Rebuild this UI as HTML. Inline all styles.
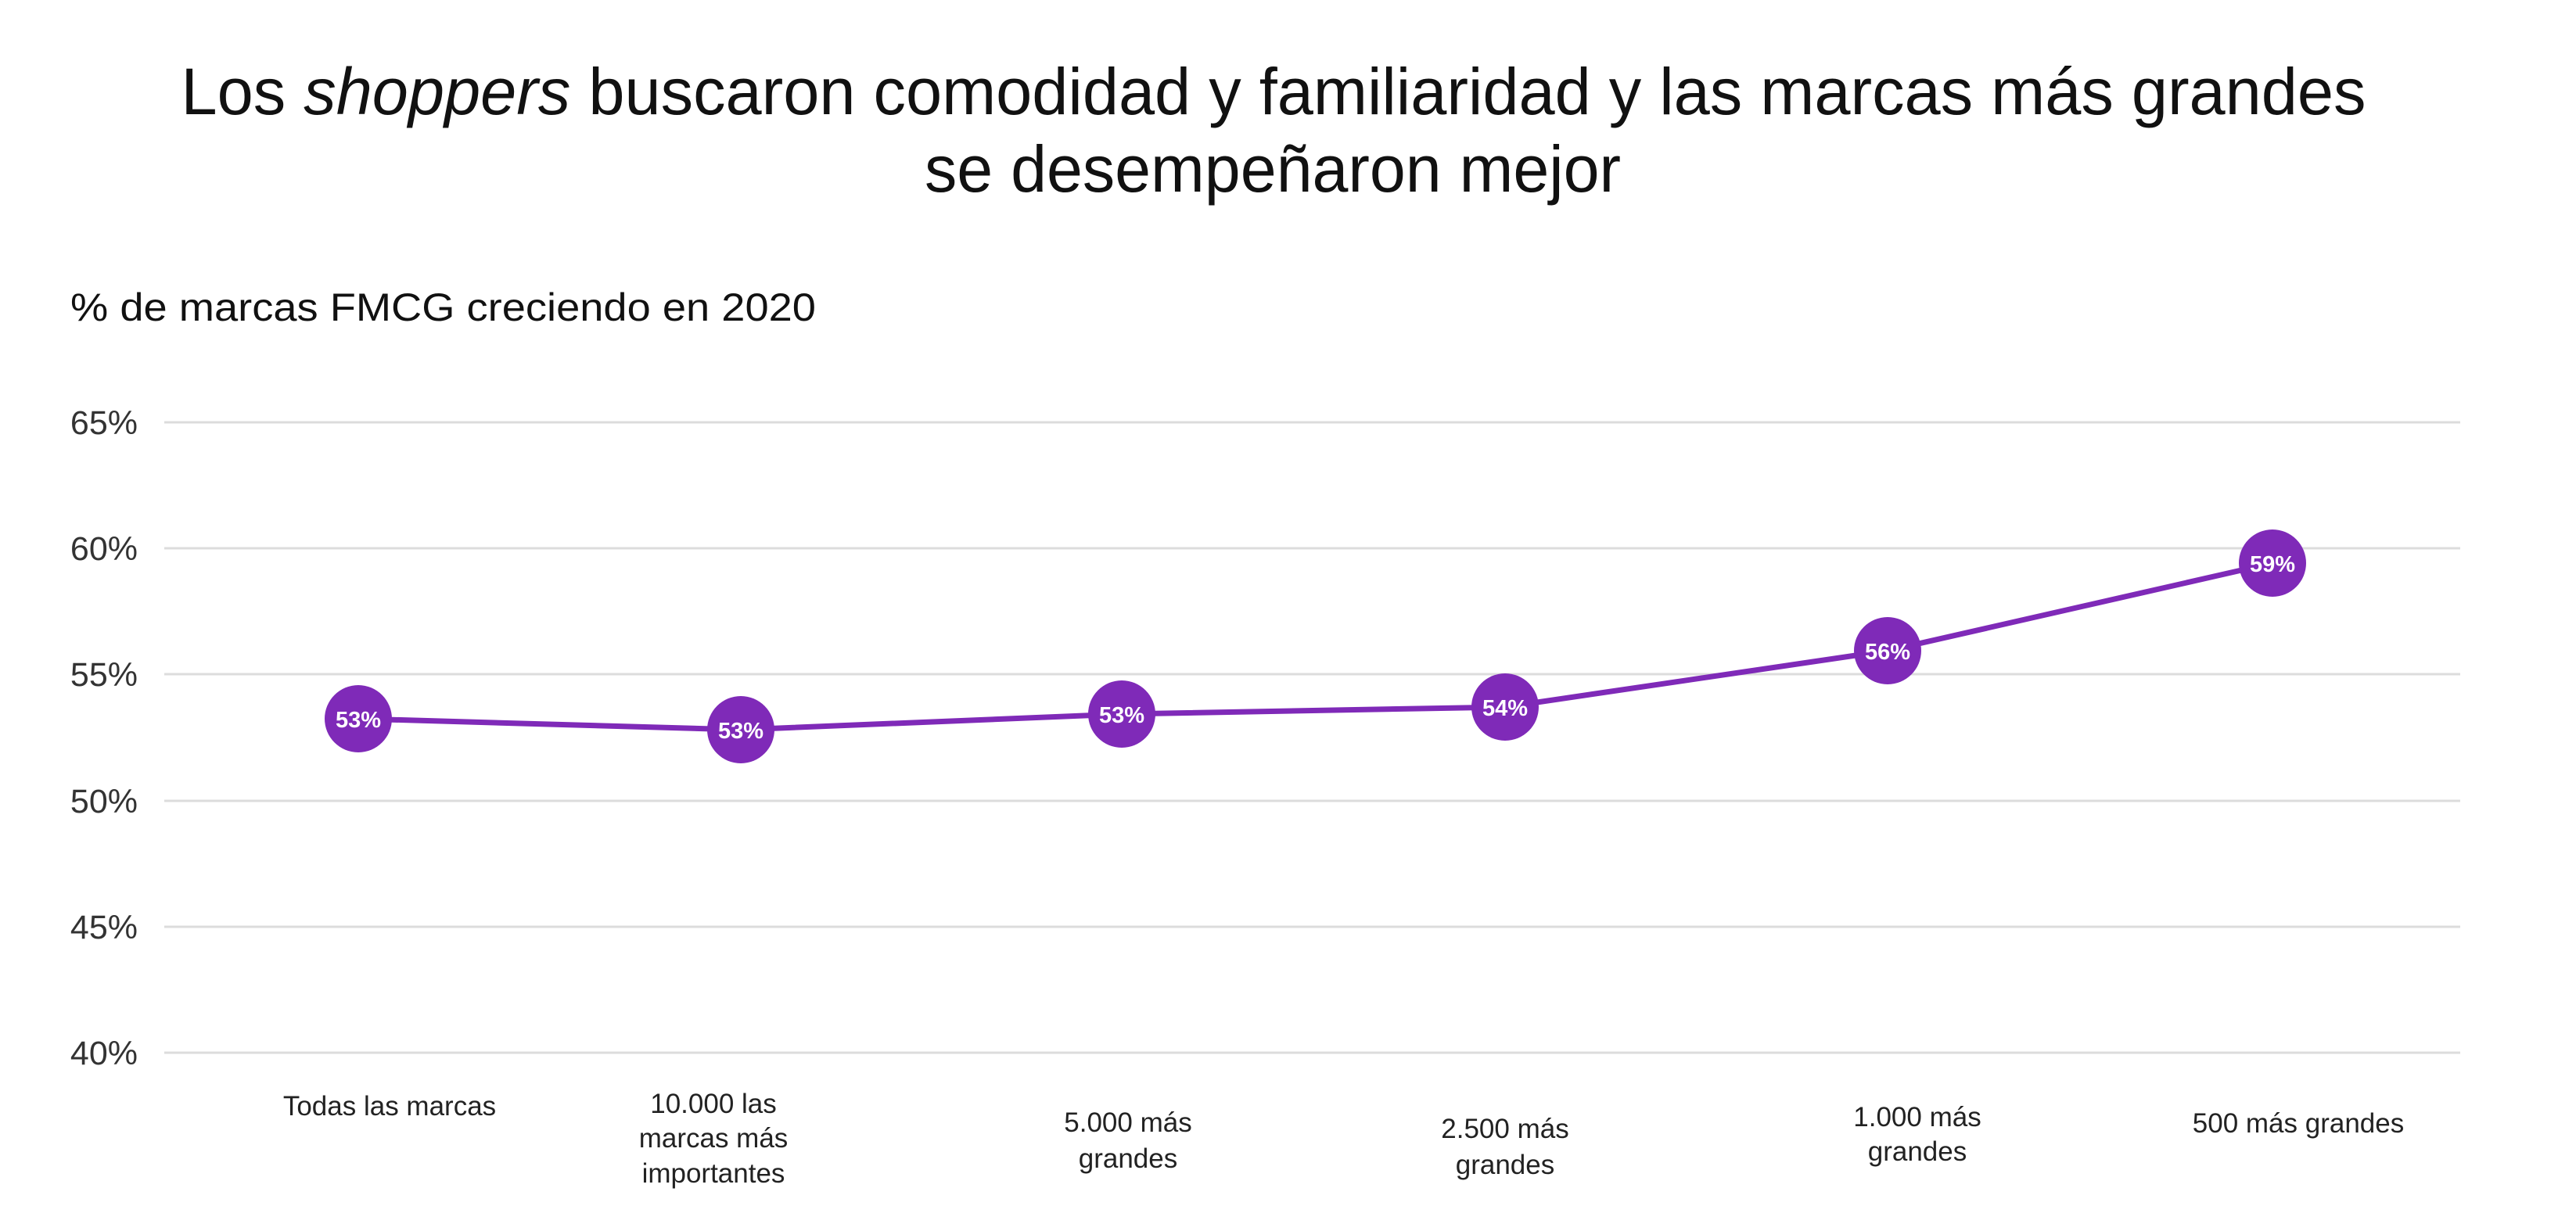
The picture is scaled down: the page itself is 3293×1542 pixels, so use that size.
<!DOCTYPE html>
<html><head><meta charset="utf-8"><style>
html,body{margin:0;padding:0;background:#fff;}
svg{display:block;}
</style></head><body>
<svg width="3293" height="1542" viewBox="0 0 3293 1542" xmlns="http://www.w3.org/2000/svg" font-family="Liberation Sans, sans-serif">
<rect width="3293" height="1542" fill="#fff"/>
<text x="1628" y="146" font-size="84" text-anchor="middle" fill="#111" textLength="2793" lengthAdjust="spacingAndGlyphs">Los <tspan font-style="italic">shoppers</tspan> buscaron comodidad y familiaridad y las marcas más grandes</text>
<text x="1627" y="245" font-size="84" text-anchor="middle" fill="#111" textLength="890" lengthAdjust="spacingAndGlyphs">se desempeñaron mejor</text>
<text x="90" y="410" font-size="50" fill="#111" textLength="953" lengthAdjust="spacingAndGlyphs">% de marcas FMCG creciendo en 2020</text>
<g stroke="#dcdcdc" stroke-width="3">
<line x1="210" y1="540" x2="3145" y2="540"/>
<line x1="210" y1="701" x2="3145" y2="701"/>
<line x1="210" y1="862" x2="3145" y2="862"/>
<line x1="210" y1="1024" x2="3145" y2="1024"/>
<line x1="210" y1="1185" x2="3145" y2="1185"/>
<line x1="210" y1="1346" x2="3145" y2="1346"/>
</g>
<g font-size="43" fill="#333" text-anchor="end">
<text x="176" y="555">65%</text>
<text x="176" y="716">60%</text>
<text x="176" y="877">55%</text>
<text x="176" y="1039">50%</text>
<text x="176" y="1200">45%</text>
<text x="176" y="1361">40%</text>
</g>
<polyline points="458,919 947,933 1434,913 1924,904 2413,832 2905,720" fill="none" stroke="#7F2AB8" stroke-width="7" stroke-linejoin="round"/>
<g fill="#7F2AB8">
<circle cx="458" cy="919" r="43"/>
<circle cx="947" cy="933" r="43"/>
<circle cx="1434" cy="913" r="43"/>
<circle cx="1924" cy="904" r="43"/>
<circle cx="2413" cy="832" r="43"/>
<circle cx="2905" cy="720" r="43"/>
</g>
<g font-size="29" font-weight="bold" fill="#fff" text-anchor="middle">
<text x="458" y="930">53%</text>
<text x="947" y="944">53%</text>
<text x="1434" y="924">53%</text>
<text x="1924" y="915">54%</text>
<text x="2413" y="843">56%</text>
<text x="2905" y="731">59%</text>
</g>
<g font-size="35" fill="#222" text-anchor="middle">
<text x="498" y="1426">Todas las marcas</text>
<text x="912" y="1423">10.000 las</text>
<text x="912" y="1467">marcas más</text>
<text x="912" y="1512">importantes</text>
<text x="1442" y="1447">5.000 más</text>
<text x="1442" y="1493">grandes</text>
<text x="1924" y="1455">2.500 más</text>
<text x="1924" y="1501">grandes</text>
<text x="2451" y="1440">1.000 más</text>
<text x="2451" y="1484">grandes</text>
<text x="2938" y="1448">500 más grandes</text>
</g>
</svg>
</body></html>
